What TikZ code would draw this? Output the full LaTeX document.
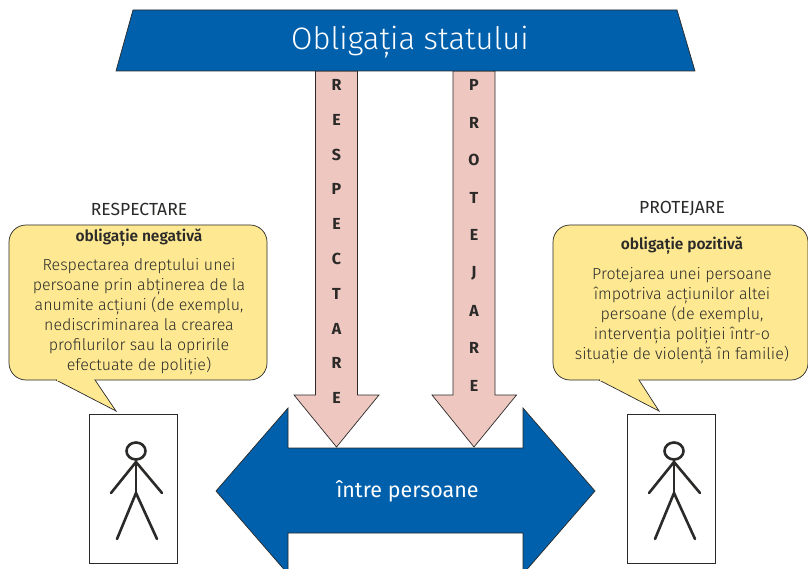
\documentclass[tikz,border=0pt]{standalone}
\usepackage{fontspec}
\setmainfont{Fira Sans Light}[BoldFont={Fira Sans Bold}]
\newfontfamily\regfont{Fira Sans}
\newfontfamily\semifont{Fira Sans SemiBold}
\definecolor{stateblue}{HTML}{0060AC}
\definecolor{arrowpink}{HTML}{EEC8C0}
\definecolor{noteyellow}{HTML}{FEE992}
\definecolor{inkgrey}{HTML}{2B2A29}
\tikzset{
  bluepart/.style={draw=inkgrey,line width=0.7pt,fill=stateblue},
  pinkarrow/.style={draw=inkgrey,line width=0.7pt,fill=arrowpink},
  notepart/.style={draw=inkgrey,line width=0.7pt,fill=noteyellow},
  personbox/.style={draw=inkgrey,line width=0.8pt,fill=white},
  stickline/.style={draw=inkgrey,line width=2.6pt,line cap=round},
  letter/.style={text=inkgrey,font=\fontsize{16}{16}\selectfont\bfseries},
  caption/.style={text=inkgrey,font=\fontsize{17.5}{17.5}\regfont},
  notehead/.style={text=inkgrey,font=\fontsize{15.5}{15.5}\semifont},
  notetext/.style={text=inkgrey,align=center,font=\fontsize{16}{20}\selectfont}
}
\begin{document}
\begin{tikzpicture}[x=1pt,y=-1pt]

\clip (0,0) rectangle (808,569);
\fill[white] (0,0) rectangle (808,569);

% arrows coming down from the state
\draw[pinkarrow] (315.5,71)--(357.5,71)--(357.5,395)--(379,395)--(336.5,447)--(294,395)--(315.5,395)--cycle;
\draw[pinkarrow] (453,71)--(495,71)--(495,395)--(516.5,395)--(474,447)--(432,395)--(453,395)--cycle;

\draw[bluepart] (133,10)--(677,10)--(695,71)--(116,71)--cycle;
\node[text=white,font=\fontsize{31}{31}\selectfont] (title) at (410,42.5) {Obligația statului};

\foreach \ch [count=\i] in {R,E,S,P,E,C,T,A,R,E}
  \node[letter] (resp\i) at (336.5,{85+(\i-1)*34.8}) {\ch};
\foreach \ch [count=\i] in {P,R,O,T,E,J,A,R,E}
  \node[letter] (prot\i) at (474,{85+(\i-1)*37.6}) {\ch};

% double arrow
\draw[bluepart] (216,491)--(288,408)--(288,448)--(523,448)--(523,408)--(595,491)--(523,574)--(523,533)--(288,533)--(288,574)--cycle;
\node[text=white,font=\fontsize{21.5}{21.5}\regfont] (between) at (407.5,491) {între persoane};

% left note
\draw[notepart,rounded corners=17pt] (9,225)--(267,225)--(267,380)--(9,380)--cycle;
\draw[notepart,line join=miter] (56,380)--(116,411)--(95,380);
\fill[noteyellow] (57,378.5) rectangle (94,381);
\node[caption] (respcap) at (139,209) {RESPECTARE};
\node[notehead] (resphead) at (139,238) {obligație negativă};
\node[notetext] (resptext) at (139,317) {Respectarea dreptului unei\\persoane prin abținerea de la\\anumite acțiuni (de exemplu,\\nediscriminarea la crearea\\profilurilor sau la opririle\\efectuate de poliție)};

% right note
\draw[notepart,rounded corners=17pt] (553,225)--(808,225)--(808,380)--(553,380)--cycle;
\draw[notepart,line join=miter] (599,380)--(659,411)--(639,380);
\fill[noteyellow] (600,378.5) rectangle (638,381);
\node[caption] (protcap) at (682,209) {PROTEJARE};
\node[notehead] (prothead) at (682,246) {obligație pozitivă};
\node[notetext] (prottext) at (682,315.5) {Protejarea unei persoane\\împotriva acțiunilor altei\\persoane (de exemplu,\\intervenția poliției într-o\\situație de violență în familie)};

% persons
\foreach \x/\name in {89/leftbox,627/rightbox}{
  \draw[personbox] (\x,414) rectangle (\x+88.5,563);
  \draw[stickline] (\x+47,451) ellipse (9.5 and 8.5);
  \draw[stickline] (\x+47,460)--(\x+47,493);
  \draw[stickline] (\x+22,493)--(\x+47,462)--(\x+73,493);
  \draw[stickline] (\x+28,539)--(\x+47,493)--(\x+68,539);
}

\end{tikzpicture}
\end{document}
